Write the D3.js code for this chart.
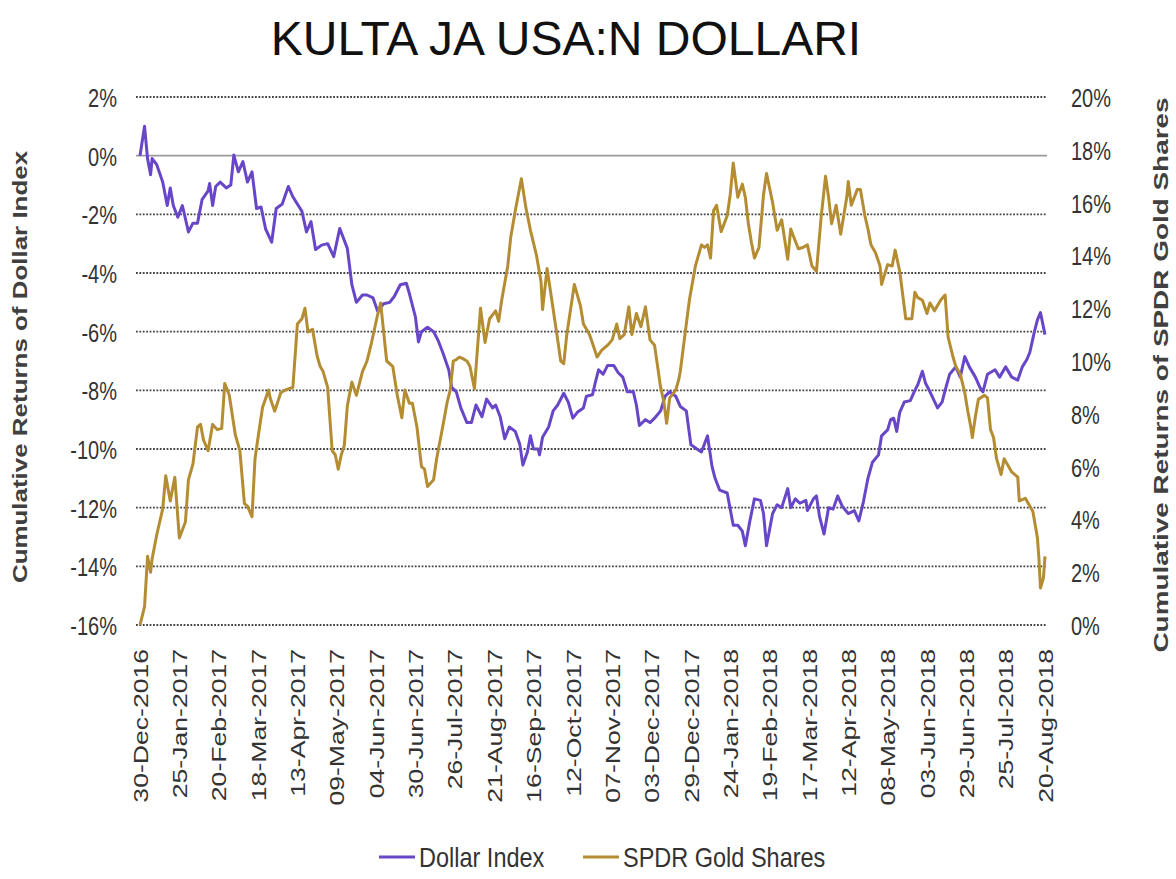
<!DOCTYPE html>
<html><head><meta charset="utf-8">
<script src="https://cdn.jsdelivr.net/npm/d3@7"></script>
<style>body{margin:0;background:#fff;} svg{display:block;font-family:"Liberation Sans",Arial,sans-serif;}</style>
</head><body><svg id="c" width="1176" height="879"></svg>
<script>
const chartTitle = "KULTA JA USA:N DOLLARI";
const leftAxisTitle = "Cumulative Returns of Dollar Index";
const rightAxisTitle = "Cumulative Returns of SPDR Gold Shares";
const seriesNames = ["Dollar Index", "SPDR Gold Shares"];
const xTickLabels = ["30-Dec-2016","25-Jan-2017","20-Feb-2017","18-Mar-2017","13-Apr-2017","09-May-2017","04-Jun-2017","30-Jun-2017","26-Jul-2017","21-Aug-2017","16-Sep-2017","12-Oct-2017","07-Nov-2017","03-Dec-2017","29-Dec-2017","24-Jan-2018","19-Feb-2018","17-Mar-2018","12-Apr-2018","08-May-2018","03-Jun-2018","29-Jun-2018","25-Jul-2018","20-Aug-2018"];
const leftTicks = [2,0,-2,-4,-6,-8,-10,-12,-14,-16];
const rightTicks = [20,18,16,14,12,10,8,6,4,2,0];

const dollarDates = ["2016-12-30","2017-01-02","2017-01-04","2017-01-06","2017-01-07","2017-01-10","2017-01-14","2017-01-17","2017-01-19","2017-01-21","2017-01-24","2017-01-27","2017-01-31","2017-02-03","2017-02-06","2017-02-09","2017-02-13","2017-02-14","2017-02-16","2017-02-18","2017-02-21","2017-02-25","2017-02-28","2017-03-02","2017-03-05","2017-03-08","2017-03-11","2017-03-14","2017-03-17","2017-03-20","2017-03-23","2017-03-27","2017-03-30","2017-04-03","2017-04-07","2017-04-10","2017-04-16","2017-04-19","2017-04-22","2017-04-25","2017-04-29","2017-05-03","2017-05-07","2017-05-11","2017-05-16","2017-05-19","2017-05-22","2017-05-26","2017-05-29","2017-06-02","2017-06-05","2017-06-09","2017-06-13","2017-06-16","2017-06-20","2017-06-24","2017-06-26","2017-06-30","2017-07-02","2017-07-04","2017-07-08","2017-07-12","2017-07-15","2017-07-18","2017-07-22","2017-07-24","2017-07-27","2017-07-30","2017-08-03","2017-08-06","2017-08-09","2017-08-13","2017-08-16","2017-08-20","2017-08-22","2017-08-25","2017-08-28","2017-08-31","2017-09-04","2017-09-07","2017-09-09","2017-09-12","2017-09-14","2017-09-16","2017-09-19","2017-09-20","2017-09-22","2017-09-26","2017-09-29","2017-10-02","2017-10-06","2017-10-09","2017-10-12","2017-10-15","2017-10-19","2017-10-21","2017-10-25","2017-10-27","2017-10-29","2017-11-01","2017-11-04","2017-11-08","2017-11-11","2017-11-14","2017-11-17","2017-11-21","2017-11-23","2017-11-25","2017-11-29","2017-12-02","2017-12-05","2017-12-09","2017-12-12","2017-12-15","2017-12-19","2017-12-22","2017-12-26","2017-12-29","2018-01-02","2018-01-05","2018-01-09","2018-01-12","2018-01-14","2018-01-17","2018-01-22","2018-01-24","2018-01-26","2018-01-29","2018-02-01","2018-02-03","2018-02-06","2018-02-09","2018-02-13","2018-02-15","2018-02-17","2018-02-21","2018-02-24","2018-02-27","2018-03-03","2018-03-05","2018-03-08","2018-03-11","2018-03-15","2018-03-16","2018-03-20","2018-03-22","2018-03-24","2018-03-27","2018-03-30","2018-04-02","2018-04-05","2018-04-08","2018-04-12","2018-04-16","2018-04-19","2018-04-22","2018-04-25","2018-04-28","2018-05-02","2018-05-04","2018-05-08","2018-05-10","2018-05-12","2018-05-14","2018-05-16","2018-05-19","2018-05-23","2018-05-26","2018-05-28","2018-05-31","2018-06-02","2018-06-05","2018-06-10","2018-06-13","2018-06-15","2018-06-18","2018-06-22","2018-06-25","2018-06-28","2018-07-01","2018-07-05","2018-07-08","2018-07-10","2018-07-13","2018-07-18","2018-07-21","2018-07-25","2018-07-29","2018-08-02","2018-08-05","2018-08-08","2018-08-10","2018-08-13","2018-08-15","2018-08-17","2018-08-20"];
const dollarValues = [0.0,1.0,-0.1,-0.65,-0.1,-0.3,-0.9,-1.7,-1.1,-1.7,-2.1,-1.7,-2.6,-2.3,-2.3,-1.5,-1.2,-0.95,-1.7,-1.05,-0.9,-1.1,-1.0,0.02,-0.55,-0.2,-0.9,-0.55,-1.8,-1.75,-2.5,-2.95,-1.8,-1.65,-1.05,-1.4,-1.9,-2.6,-2.25,-3.2,-3.05,-3.0,-3.44,-2.48,-3.16,-4.4,-5.0,-4.75,-4.75,-4.85,-5.3,-5.05,-5.0,-4.8,-4.4,-4.35,-4.7,-5.5,-6.35,-6.0,-5.85,-6.0,-6.3,-6.7,-7.3,-7.9,-8.05,-8.6,-9.1,-9.1,-8.5,-8.9,-8.3,-8.6,-8.5,-8.9,-9.65,-9.25,-9.4,-9.85,-10.55,-10.1,-9.55,-10.0,-10.0,-10.2,-9.6,-9.25,-8.7,-8.5,-8.1,-8.4,-8.95,-8.75,-8.6,-8.2,-8.15,-7.7,-7.3,-7.45,-7.15,-7.15,-7.4,-7.55,-8.05,-8.05,-8.5,-9.2,-9.0,-9.1,-8.95,-8.7,-8.2,-8.05,-8.2,-8.55,-8.7,-9.85,-10.0,-10.1,-9.55,-10.6,-11.0,-11.4,-11.5,-12.05,-12.6,-12.6,-12.8,-13.3,-12.45,-11.7,-11.75,-12.2,-13.3,-12.2,-11.9,-12.0,-11.35,-12.0,-11.7,-11.85,-11.75,-12.1,-11.7,-11.6,-12.3,-12.9,-12.0,-12.05,-11.6,-11.95,-12.2,-12.1,-12.45,-11.8,-11.0,-10.45,-10.2,-9.55,-9.35,-9.0,-8.95,-9.4,-8.75,-8.4,-8.35,-8.0,-7.8,-7.35,-7.75,-8.05,-8.6,-8.4,-8.0,-7.45,-7.2,-7.55,-6.85,-7.2,-7.55,-7.9,-8.05,-7.45,-7.3,-7.55,-7.2,-7.55,-7.65,-7.2,-6.95,-6.7,-6.0,-5.6,-5.35,-6.1];

const goldDates = ["2016-12-30","2017-01-02","2017-01-04","2017-01-06","2017-01-07","2017-01-10","2017-01-14","2017-01-16","2017-01-19","2017-01-22","2017-01-25","2017-01-29","2017-01-31","2017-02-03","2017-02-06","2017-02-08","2017-02-10","2017-02-13","2017-02-16","2017-02-19","2017-02-22","2017-02-24","2017-02-27","2017-03-03","2017-03-06","2017-03-09","2017-03-11","2017-03-14","2017-03-16","2017-03-18","2017-03-21","2017-03-25","2017-03-26","2017-03-29","2017-04-02","2017-04-05","2017-04-10","2017-04-13","2017-04-16","2017-04-18","2017-04-20","2017-04-23","2017-04-26","2017-04-28","2017-04-30","2017-05-03","2017-05-06","2017-05-08","2017-05-10","2017-05-12","2017-05-14","2017-05-16","2017-05-19","2017-05-22","2017-05-26","2017-05-29","2017-06-01","2017-06-05","2017-06-07","2017-06-09","2017-06-11","2017-06-15","2017-06-18","2017-06-21","2017-06-23","2017-06-26","2017-06-28","2017-07-01","2017-07-04","2017-07-06","2017-07-08","2017-07-12","2017-07-14","2017-07-18","2017-07-21","2017-07-23","2017-07-25","2017-07-27","2017-07-29","2017-07-31","2017-08-03","2017-08-05","2017-08-08","2017-08-12","2017-08-15","2017-08-18","2017-08-22","2017-08-24","2017-08-26","2017-08-30","2017-09-01","2017-09-04","2017-09-08","2017-09-11","2017-09-14","2017-09-18","2017-09-21","2017-09-22","2017-09-25","2017-09-28","2017-10-02","2017-10-04","2017-10-06","2017-10-08","2017-10-13","2017-10-17","2017-10-19","2017-10-23","2017-10-26","2017-10-28","2017-10-31","2017-11-04","2017-11-07","2017-11-10","2017-11-12","2017-11-15","2017-11-18","2017-11-20","2017-11-23","2017-11-26","2017-11-29","2017-12-02","2017-12-05","2017-12-09","2017-12-11","2017-12-13","2017-12-15","2017-12-19","2017-12-21","2017-12-22","2017-12-25","2017-12-28","2018-01-01","2018-01-03","2018-01-05","2018-01-07","2018-01-09","2018-01-11","2018-01-13","2018-01-15","2018-01-18","2018-01-22","2018-01-24","2018-01-26","2018-01-29","2018-02-01","2018-02-03","2018-02-05","2018-02-07","2018-02-09","2018-02-12","2018-02-15","2018-02-17","2018-02-21","2018-02-24","2018-02-27","2018-03-03","2018-03-05","2018-03-07","2018-03-10","2018-03-13","2018-03-16","2018-03-19","2018-03-22","2018-03-25","2018-03-28","2018-03-30","2018-04-01","2018-04-04","2018-04-07","2018-04-11","2018-04-12","2018-04-14","2018-04-18","2018-04-20","2018-04-23","2018-04-25","2018-04-27","2018-04-30","2018-05-03","2018-05-04","2018-05-08","2018-05-11","2018-05-13","2018-05-16","2018-05-18","2018-05-20","2018-05-24","2018-05-26","2018-05-28","2018-05-31","2018-06-03","2018-06-05","2018-06-08","2018-06-12","2018-06-15","2018-06-17","2018-06-20","2018-06-22","2018-06-25","2018-06-28","2018-06-30","2018-07-02","2018-07-03","2018-07-05","2018-07-07","2018-07-11","2018-07-13","2018-07-15","2018-07-17","2018-07-19","2018-07-22","2018-07-24","2018-07-26","2018-07-29","2018-08-02","2018-08-03","2018-08-07","2018-08-09","2018-08-12","2018-08-15","2018-08-16","2018-08-17","2018-08-19","2018-08-20"];
const goldValues = [0.0,0.7,2.6,2.0,2.5,3.4,4.4,5.65,4.7,5.6,3.3,3.9,5.5,6.1,7.5,7.6,7.0,6.6,7.6,7.4,7.45,9.15,8.7,7.2,6.6,4.6,4.5,4.1,6.3,7.1,8.25,8.9,8.6,8.1,8.8,8.9,9.0,11.4,11.6,12.0,11.1,11.2,10.2,9.8,9.6,9.0,6.6,6.45,5.9,6.45,6.8,8.3,9.2,8.7,9.6,10.0,10.7,11.75,12.2,11.1,10.0,9.8,8.7,7.85,8.9,8.4,8.4,7.5,6.0,5.9,5.25,5.5,6.3,7.5,8.45,8.9,10.0,10.05,10.15,10.1,10.0,9.8,8.95,12.0,10.7,11.6,11.9,11.5,12.3,13.6,14.7,15.7,16.9,15.8,14.95,14.0,13.0,11.95,13.5,12.35,10.8,10.0,9.9,11.0,12.9,12.1,11.4,11.0,10.5,10.15,10.4,10.6,10.8,11.4,10.85,11.0,12.05,11.0,11.8,11.3,12.05,10.8,10.6,9.0,8.5,7.64,8.6,8.9,9.3,9.6,10.96,12.3,13.6,14.0,14.4,14.3,14.4,13.9,15.7,15.9,14.9,15.5,16.3,17.5,16.2,16.7,16.2,15.2,14.5,13.9,14.3,16.3,17.1,16.0,14.95,15.35,13.85,15.0,14.7,14.25,14.3,14.4,13.6,13.4,15.4,17.0,16.2,15.2,15.9,14.8,16.2,16.8,15.9,16.5,16.5,15.5,15.0,14.4,14.1,13.6,12.9,13.65,13.6,14.2,13.4,12.5,11.6,11.6,12.6,12.4,12.3,11.8,12.2,11.9,12.3,12.5,10.9,10.2,9.8,9.5,8.8,8.1,7.5,7.1,7.9,8.55,8.7,8.6,7.4,7.1,6.3,5.7,6.3,6.1,5.8,5.6,4.7,4.8,4.6,4.3,3.3,2.5,1.4,1.8,2.6];

const colors = {dollar:"#6747c8", gold:"#b48d33"};
const SY = 1.33; // vertical stretch of the original chart text

const svg = d3.select("#c");
const parseDate = d3.timeParse("%Y-%m-%d");
const parseTick = d3.timeParse("%d-%b-%Y");
const tickDates = xTickLabels.map(parseTick);

const x = d3.scaleTime().domain([tickDates[0], tickDates[tickDates.length-1]]).range([140,1045]);
const yL = d3.scaleLinear().domain([-16,2]).range([625,97]);
const yR = d3.scaleLinear().domain([0,20]).range([625,97]);

svg.append("rect").attr("width",1176).attr("height",879).attr("fill","#fff");

// gridlines
svg.append("g").selectAll("line").data(leftTicks).join("line")
  .attr("x1",136).attr("x2",1047)
  .attr("y1",d=>yL(d)).attr("y2",d=>yL(d))
  .attr("stroke",d=>d===0?"#9a9a9a":"#444")
  .attr("stroke-width",d=>d===0?1.7:1.8)
  .attr("stroke-dasharray",d=>d===0?null:"1.8,1.6");

// left axis
const gL = svg.append("g").attr("transform","translate(117,0)")
  .call(d3.axisLeft(yL).tickValues(leftTicks).tickFormat(d=>d+"%").tickSize(0).tickPadding(0));
gL.select(".domain").remove();
gL.selectAll("text").attr("font-size",20).attr("fill","#333").attr("font-family","Liberation Sans, Arial, sans-serif")
  .attr("dy","0.36em").attr("x",0).attr("transform",`scale(1,${SY})`);

// right axis
const gR = svg.append("g").attr("transform","translate(1071,0)")
  .call(d3.axisRight(yR).tickValues(rightTicks).tickFormat(d=>d+"%").tickSize(0).tickPadding(0));
gR.select(".domain").remove();
gR.selectAll("text").attr("font-size",20).attr("fill","#333").attr("font-family","Liberation Sans, Arial, sans-serif")
  .attr("dy","0.36em").attr("x",0).attr("transform",`scale(1,${SY})`);

// x axis
const gX = svg.append("g").attr("transform","translate(0,645)")
  .call(d3.axisBottom(x).tickValues(tickDates).tickFormat(d3.timeFormat("%d-%b-%Y")).tickSize(0).tickPadding(0));
gX.select(".domain").remove();
gX.selectAll("text").attr("font-size",20).attr("fill","#333").attr("font-family","Liberation Sans, Arial, sans-serif")
  .attr("text-anchor","end").attr("x",-3).attr("y",0).attr("dy","0.36em")
  .attr("transform",`scale(1,${SY}) rotate(-90)`);

// lines
const dollarData = dollarDates.map((d,i)=>({date:parseDate(d), v:dollarValues[i]}));
const goldData = goldDates.map((d,i)=>({date:parseDate(d), v:goldValues[i]}));
const lineL = d3.line().x(d=>x(d.date)).y(d=>yL(d.v));
const lineR = d3.line().x(d=>x(d.date)).y(d=>yR(d.v));
svg.append("path").datum(dollarData).attr("d",lineL).attr("fill","none")
  .attr("stroke",colors.dollar).attr("stroke-width",3).attr("stroke-linejoin","round");
svg.append("path").datum(goldData).attr("d",lineR).attr("fill","none")
  .attr("stroke",colors.gold).attr("stroke-width",3).attr("stroke-linejoin","round");

// title
svg.append("text").attr("x",566).attr("y",55).attr("text-anchor","middle")
  .attr("font-size",48).attr("fill","#111").text(chartTitle);

// axis titles
svg.append("g").attr("transform",`translate(27,367) scale(1,${SY}) rotate(-90)`)
  .append("text").attr("text-anchor","middle").attr("font-size",19.5).attr("font-weight","bold")
  .attr("fill","#404040").text(leftAxisTitle);
svg.append("g").attr("transform",`translate(1168,375) scale(1,${SY}) rotate(-90)`)
  .append("text").attr("text-anchor","middle").attr("font-size",21).attr("font-weight","bold")
  .attr("fill","#404040").text(rightAxisTitle);

// legend
const legend = [
  {name:seriesNames[0], color:colors.dollar, x:379},
  {name:seriesNames[1], color:colors.gold, x:583}
];
const lg = svg.append("g").selectAll("g").data(legend).join("g")
  .attr("transform",d=>`translate(${d.x},857)`);
lg.append("line").attr("x1",0).attr("x2",36).attr("y1",0).attr("y2",0)
  .attr("stroke",d=>d.color).attr("stroke-width",3);
lg.append("text").attr("x",40).attr("dy","0.36em").attr("font-size",23.5)
  .attr("fill","#333").attr("transform","scale(1,1.15)").text(d=>d.name);
</script></body></html>
